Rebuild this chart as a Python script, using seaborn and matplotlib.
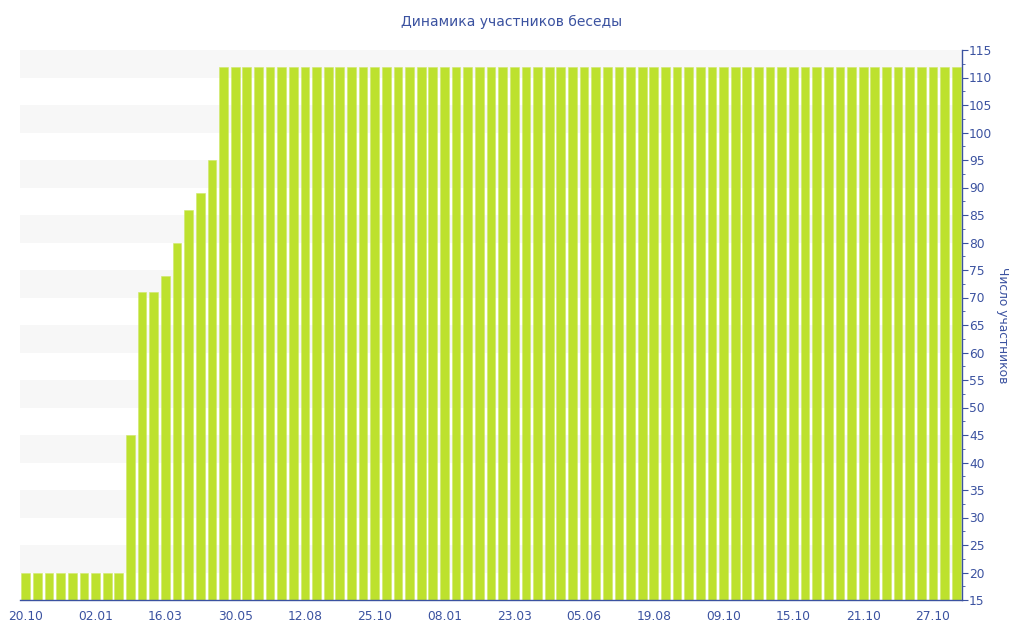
import matplotlib
matplotlib.use("Agg")
import matplotlib.pyplot as plt
import seaborn as sns
from matplotlib.ticker import MultipleLocator

# bar values (participants per period)
values = [20, 20, 20, 20, 20, 20, 20, 20, 20,
          45, 71, 71, 74, 80, 86, 89, 95,
          112, 112, 112, 112, 112, 112, 112, 112, 112, 112, 112, 112, 112, 112, 112, 112,
          112, 112, 112, 112, 112, 112, 112, 112, 112, 112, 112, 112, 112, 112, 112, 112,
          112, 112, 112, 112, 112, 112, 112, 112, 112, 112, 112, 112, 112, 112, 112, 112,
          112, 112, 112, 112, 112, 112, 112, 112, 112, 112, 112, 112, 112, 112, 112, 112]
positions = list(range(len(values)))

# tick labels, one per 6 bars
tick_labels = ["20.10", "02.01", "16.03", "30.05", "12.08", "25.10", "08.01",
               "23.03", "05.06", "19.08", "09.10", "15.10", "21.10", "27.10"]
tick_step = 6

blue = "#3b52a0"
green = "#bde12e"

sns.set_style("white")
plt.rcParams['font.family'] = ['DejaVu Sans']

fig = plt.figure(figsize=(10.24, 6.4), dpi=100)
ax = fig.add_axes([20 / 1024, 40 / 640, 942 / 1024, 550 / 640])

# alternating bands
for lo in range(20, 115, 10):
    ax.axhspan(lo, lo + 5, color="#f7f7f7", zorder=0, lw=0)

sns.barplot(x=positions, y=values, color=green, saturation=1, width=0.75,
            edgecolor="#cfe86a", linewidth=0.4, ax=ax, zorder=2)

ax.set_xlim(-0.5, len(values) - 0.5)
ax.set_ylim(15, 115)
ax.set_xticks(positions[::tick_step])
ax.set_xticklabels(tick_labels)

ax.yaxis.tick_right()
ax.yaxis.set_label_position("right")
ax.yaxis.set_major_locator(MultipleLocator(5))
ax.yaxis.set_minor_locator(MultipleLocator(2.5))
ax.set_ylabel("Число участников", rotation=270, color=blue, fontsize=8.8, labelpad=12)
ax.set_xlabel("")

ax.tick_params(axis="both", colors=blue, labelsize=8.8, length=4, width=0.8)
ax.tick_params(axis="y", which="minor", colors=blue, length=2, width=0.6, right=True)
ax.tick_params(axis="y", pad=1)
for lab in ax.get_xticklabels() + ax.get_yticklabels():
    lab.set_color(blue)

for s in ["top", "left"]:
    ax.spines[s].set_visible(False)
for s in ["right", "bottom"]:
    ax.spines[s].set_color(blue)
    ax.spines[s].set_linewidth(1)

fig.text(512 / 1024, 1 - 22 / 640, "Динамика участников беседы", ha="center", va="center",
         color=blue, fontsize=10)

fig.savefig("out.png", dpi=100, facecolor="white")
